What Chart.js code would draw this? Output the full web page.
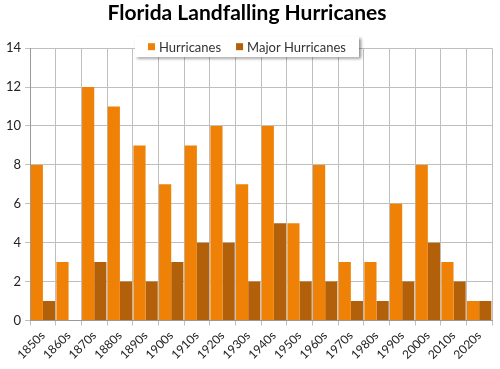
<!DOCTYPE html>
<html>
<head>
<meta charset="utf-8">
<script src="https://cdn.jsdelivr.net/npm/chart.js@4"></script>
<style>
html,body{margin:0;padding:0;background:#fff;}
#wrap{width:500px;height:369px;position:relative;}
</style>
</head>
<body>
<div id="wrap"><canvas id="c" width="500" height="369"></canvas></div>
<script>
const categories = ['1850s','1860s','1870s','1880s','1890s','1900s','1910s','1920s','1930s','1940s','1950s','1960s','1970s','1980s','1990s','2000s','2010s','2020s'];
const hurricanes = [8,3,12,11,9,7,9,10,7,10,5,8,3,3,6,8,3,1];
const majorHurricanes = [1,0,3,2,2,3,4,4,2,5,2,2,1,1,2,4,2,1];
const seriesNames = ['Hurricanes','Major Hurricanes'];
const seriesColors = ['#EF8206','#B3600B'];
const titleText = 'Florida Landfalling Hurricanes';

const boxLegend = {
  id: 'boxLegend',
  afterDraw(chart) {
    const ctx = chart.ctx;
    const ds = chart.data.datasets;
    ctx.save();
    ctx.font = '13px Lato';
    const sq = 7, gapSq = 4, gapItem = 15, padX = 13;
    let total = 0;
    const widths = ds.map(d => ctx.measureText(d.label).width);
    widths.forEach((w,i) => { total += sq + gapSq + w + (i < ds.length-1 ? gapItem : 0); });
    const boxW = total + padX*2, boxH = 21;
    const cx = 247;
    const x0 = cx - boxW/2, y0 = chart.chartArea.top - 12;
    ctx.shadowColor = 'rgba(0,0,0,0.45)';
    ctx.shadowBlur = 3;
    ctx.shadowOffsetX = 2;
    ctx.shadowOffsetY = 2;
    ctx.fillStyle = '#fff';
    ctx.fillRect(x0, y0, boxW, boxH);
    ctx.shadowColor = 'transparent';
    let x = x0 + padX;
    const cy = y0 + boxH/2;
    ds.forEach((d,i) => {
      ctx.fillStyle = d.backgroundColor;
      ctx.fillRect(x, cy - sq/2, sq, sq);
      x += sq + gapSq;
      ctx.fillStyle = '#333';
      ctx.textBaseline = 'middle';
      ctx.textAlign = 'left';
      ctx.fillText(d.label, x, cy + 1);
      x += widths[i] + gapItem;
    });
    ctx.restore();
  }
};

new Chart(document.getElementById('c'), {
  type: 'bar',
  data: {
    labels: categories,
    datasets: [
      { label: seriesNames[0], data: hurricanes, backgroundColor: seriesColors[0] },
      { label: seriesNames[1], data: majorHurricanes, backgroundColor: seriesColors[1] }
    ]
  },
  options: {
    responsive: false,
    animation: false,
    devicePixelRatio: 1,
    layout: { padding: { left: 2, right: 8, top: 0, bottom: 4 } },
    datasets: { bar: { categoryPercentage: 0.95, barPercentage: 1.0 } },
    plugins: {
      legend: { display: false },
      tooltip: { enabled: false },
      title: {
        display: true,
        text: titleText,
        color: '#000',
        font: { family: 'Lato', size: 21, weight: 'bold' },
        padding: { top: 1, bottom: 22 }
      }
    },
    scales: {
      x: {
        grid: { color: '#BFBFBF', tickLength: 5, offset: true },
        border: { color: '#999' },
        ticks: {
          minRotation: 45, maxRotation: 45,
          color: '#222',
          font: { family: 'Lato', size: 12 },
          padding: 3
        }
      },
      y: {
        min: 0, max: 14,
        grid: { color: '#BFBFBF', tickLength: 5 },
        border: { color: '#999' },
        ticks: {
          stepSize: 2,
          color: '#222',
          font: { family: 'Lato', size: 13 },
          padding: 4
        }
      }
    }
  },
  plugins: [boxLegend]
});
</script>
</body>
</html>
